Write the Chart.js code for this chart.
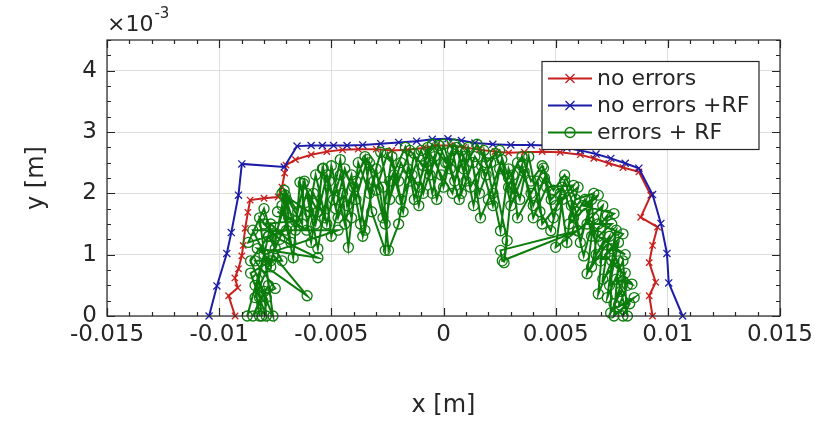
<!DOCTYPE html>
<html>
<head>
<meta charset="utf-8">
<script src="https://cdn.jsdelivr.net/npm/chart.js@4.4.0/dist/chart.umd.min.js"></script>
<style>
  html, body { margin: 0; padding: 0; background: #fff; }
</style>
</head>
<body>
<canvas id="chart" width="815" height="422"></canvas>
<script>
// x values in mm, y values in 1e-3 m (axis shows x in m, y with a x10^-3 factor)
const seriesLabels = ['no errors', 'no errors +RF', 'errors + RF'];
const seriesColors = ['#c8201e', '#1c1ca8', '#0c7c0c'];
const xTickValues = [-15, -10, -5, 0, 5, 10, 15];
const yTickValues = [0, 1, 2, 3, 4];

const redPts = [
  [-9.29,0],[-9.58,0.33],[-9.17,0.46],[-9.3,0.62],[-9.14,0.77],[-8.99,0.98],[-8.93,1.15],
  [-8.84,1.43],[-8.72,1.69],[-8.62,1.89],[-8.0,1.92],[-7.37,1.94],[-7.2,2.1],[-7.08,2.33],
  [-7.02,2.46],[-6.6,2.55],[-5.9,2.63],[-5.2,2.68],[-4.5,2.71],[-3.8,2.72],[-3.0,2.72],
  [-2.3,2.7],[-1.6,2.71],[-0.9,2.74],[-0.3,2.78],[0.3,2.78],[0.9,2.75],[1.6,2.71],[2.3,2.68],
  [2.9,2.66],[3.6,2.67],[4.4,2.68],[5.2,2.67],[6.1,2.63],[6.7,2.57],[7.37,2.49],[8.0,2.42],
  [8.71,2.35],[9.24,1.97],[8.79,1.61],[9.54,1.45],[9.32,1.15],[9.17,0.87],[9.46,0.55],
  [9.17,0.33],[9.32,0]
];

const bluePts = [
  [-10.45,0],[-10.1,0.49],[-9.66,1.02],[-9.46,1.36],[-9.14,1.97],[-8.99,2.48],[-7.1,2.43],
  [-6.53,2.77],[-5.9,2.78],[-5.4,2.78],[-4.9,2.78],[-4.3,2.78],[-3.6,2.79],[-2.8,2.81],
  [-2.0,2.83],[-1.2,2.85],[-0.5,2.88],[0.2,2.89],[0.8,2.86],[1.4,2.82],[2.2,2.8],[3.0,2.79],
  [3.9,2.79],[4.7,2.78],[5.5,2.74],[6.1,2.7],[6.8,2.64],[7.46,2.57],[8.1,2.49],[8.71,2.41],
  [9.32,1.98],[9.69,1.51],[9.96,1.02],[10.04,0.54],[10.66,0]
];

const greenPts = [
  [-8.2,0.0],[-8.4,0.5],[-7.9,0.3],[-8.6,0.9],[-7.8,1.3],[-8.7,1.2],[-8.0,1.75],[-7.5,1.1],
  [-6.9,1.6],[-7.05,1.97],[-6.3,1.5],[-6.25,2.16],[-5.6,1.7],[-5.4,2.4],[-4.9,1.9],[-4.6,2.3],
  [-4.1,1.6],[-3.8,2.5],[-3.3,2.0],[-2.8,2.67],[-2.4,1.9],[-1.9,2.5],[-1.5,2.2],[-1.0,2.7],
  [-0.6,2.3],[-0.2,2.78],[0.3,2.4],[0.6,2.75],[1.0,2.2],[1.4,2.6],[1.9,2.3],[2.3,2.65],
  [2.9,2.1],[3.3,2.5],[3.9,2.0],[4.46,2.41],[4.8,1.9],[5.3,2.1],[5.8,1.6],[6.3,1.9],
  [6.6,1.3],[7.3,1.64],[7.0,0.9],[7.8,1.2],[7.4,0.5],[8.1,0.7],[7.6,0.2],[8.0,0.0],
  [8.3,0.2],[7.7,0.6],[8.4,0.52],[7.2,1.0],[8.0,1.34],[6.9,1.5],[7.6,1.67],[6.2,1.8],
  [6.9,1.97],[5.6,1.5],[6.0,2.1],[5.0,1.8],[5.8,2.13],[4.6,2.1],[4.0,1.6],[3.6,2.35],
  [3.0,1.8],[2.6,2.55],[2.0,1.9],[1.65,1.6],[1.3,2.5],[0.8,2.0],[0.4,2.7],[0.0,2.1],
  [-0.4,2.6],[-0.9,2.0],[-1.3,2.65],[-1.8,1.7],[-2.2,2.3],[-2.6,1.5],[-3.0,2.4],[-3.5,1.4],
  [-3.9,2.2],[-4.24,1.12],[-4.5,2.0],[-5.0,1.3],[-5.36,2.41],[-5.9,1.2],[-6.4,2.18],[-6.7,0.95],
  [-7.2,1.8],[-7.7,0.8],[-8.5,1.4],[-4.7,1.4],[-8.0,1.0],[-8.75,0.0],[-8.3,0.6],[-7.6,0.0],
  [-7.9,0.8],[-6.08,0.33],[-7.6,1.0],[-8.4,0.3],[-7.7,1.5],[-6.8,1.2],[-7.2,2.0],[-6.0,1.7],
  [-5.7,2.3],[-5.2,1.5],[-4.6,2.55],[-4.3,1.8],[-3.5,2.6],[-3.2,1.7],[-2.6,1.07],[-2.4,2.2],
  [-1.7,2.75],[-1.3,1.9],[-0.8,2.5],[-0.5,2.0],[0.0,2.8],[0.5,2.2],[0.9,2.6],[1.34,1.8],
  [1.8,2.7],[2.2,2.0],[2.54,1.39],[2.9,2.4],[3.4,1.9],[3.8,2.6],[4.3,1.7],[4.78,1.39],
  [5.2,2.0],[5.5,1.2],[5.7,1.8],[6.25,0.98],[6.7,1.6],[6.4,0.69],[7.1,1.2],[6.9,0.36],
  [7.5,0.9],[7.45,0.05],[7.9,0.4],[8.2,0.0],
  [8.0,0.9],[7.3,0.3],[7.7,1.4],[6.6,0.8],[7.1,1.8],[6.0,1.39],[2.62,0.9],[2.54,1.07],
  [5.97,1.39],[5.0,1.12],[5.3,1.9],[4.4,1.5],[4.2,2.2],[3.3,1.6],[3.1,2.3],[2.7,0.87],
  [2.84,1.23],[2.1,2.5],[1.6,2.0],[1.1,2.75],[0.7,1.9],[0.2,2.5],[-0.3,1.9],[-0.7,2.75],
  [-1.1,2.1],[-1.6,2.4],[-2.0,1.5],[-2.45,1.07],[-2.7,2.1],[-3.3,2.5],[-3.7,1.5],[-4.1,2.3],
  [-4.7,1.6],[-5.1,2.2],[-5.6,1.1],[-6.1,2.0],[-6.6,1.4],[-7.0,1.9],[-7.5,1.3],[-8.2,1.6],
  [-7.8,0.5],[-8.5,0.0],[-8.0,0.4],[-7.9,0.0],
  [-8.1,0.2],[-8.6,0.7],[-7.7,0.9],[-8.3,1.1],[-5.6,0.95],[-7.3,1.25],[-8.0,1.5],[-6.6,1.55],
  [-7.4,1.7],[-6.1,1.4],[-5.8,2.0],[-5.3,1.6],[-5.0,2.45],[-4.4,1.5],[-4.0,2.1],[-3.6,1.3],
  [-3.1,2.2],[-2.7,1.6],[-2.3,2.6],[-1.9,1.9],[-1.4,2.3],[-1.1,1.8],[-0.6,2.65],[-0.1,2.3],
  [0.4,2.0],[0.8,2.7],[1.2,2.1],[1.7,2.45],[2.2,1.8],[2.5,2.4],[3.1,2.0],[3.5,2.45],
  [4.0,1.8],[4.5,2.25],[4.9,1.6],[5.4,2.2],[5.9,1.7],[6.1,1.2],[6.6,1.9],[6.8,1.0],
  [7.4,1.3],[7.1,0.6],[7.8,0.9],[7.6,0.0],[8.5,0.3],[7.8,0.15],
  [8.2,0.5],[7.5,1.1],[8.1,1.0],[6.9,1.3],[7.5,1.5],[6.4,1.5],[6.7,2.0],[5.9,1.9],
  [5.4,2.3],[4.9,2.05],[4.4,2.45],[3.9,2.2],[3.5,2.6],[2.9,2.25],[2.5,2.7],[1.9,2.5],
  [1.5,2.8],[0.9,2.4],[0.5,2.8],[0.1,2.5],[-0.5,2.8],[-0.9,2.45],[-1.5,2.7],[-2.0,2.2],
  [-2.5,2.65],[-3.0,2.05],[-3.4,2.55],[-3.9,1.9],[-4.4,2.4],[-4.8,1.75],[-5.2,2.3],[-5.7,1.5],
  [-6.2,2.2],[-6.5,1.7],[-7.1,2.05],[-7.0,1.4],[-7.8,1.3],[-7.2,0.9],[-8.4,0.9],[-7.5,0.45],
  [-8.2,0.3],[-8.1,0.0]
];

const toXY = pts => pts.map(p => ({ x: p[0], y: p[1] }));
const FONT = '"DejaVu Sans", sans-serif';
const TEXT = '#262626';

// axes box, inner ticks, titles and the legend drawn over the data
const axesBox = {
  id: 'axesBox',
  afterDatasetsDraw(chart) {
    const { ctx, chartArea: a, scales: { x, y } } = chart;
    ctx.save();
    ctx.strokeStyle = TEXT;
    ctx.lineWidth = 1.2;
    ctx.beginPath();
    for (let v = -15; v <= 15; v++) {
      const px = Math.round(x.getPixelForValue(v)) + 0.5;
      const len = v % 5 === 0 ? 8 : 4;
      ctx.moveTo(px, a.bottom); ctx.lineTo(px, a.bottom - len);
      ctx.moveTo(px, a.top); ctx.lineTo(px, a.top + len);
    }
    for (let v = 0; v <= 4.5; v += 0.25) {
      const py = Math.round(y.getPixelForValue(v)) + 0.5;
      const len = v % 1 === 0 ? 8 : 4;
      ctx.moveTo(a.left, py); ctx.lineTo(a.left + len, py);
      ctx.moveTo(a.right, py); ctx.lineTo(a.right - len, py);
    }
    ctx.stroke();
    ctx.strokeRect(a.left, a.top, a.right - a.left, a.bottom - a.top);

    // titles
    ctx.fillStyle = TEXT;
    ctx.font = '24px ' + FONT;
    ctx.textAlign = 'center';
    ctx.textBaseline = 'middle';
    ctx.fillText('x [m]', (a.left + a.right) / 2, 406);
    ctx.save();
    ctx.translate(37, (a.top + a.bottom) / 2);
    ctx.rotate(-Math.PI / 2);
    ctx.fillText('y [m]', 0, 0);
    ctx.restore();
    ctx.textAlign = 'left';
    ctx.font = '22px ' + FONT;
    ctx.fillText('\u00d710', a.left, 25);
    const w = ctx.measureText('\u00d710').width;
    ctx.font = '15px ' + FONT;
    ctx.fillText('-3', a.left + 1 + w, 14);

    // legend
    const lx = a.right - 238, ly = a.top + 21.5, lw = 217, lh = 88;
    ctx.fillStyle = '#fff';
    ctx.fillRect(lx, ly, lw, lh);
    ctx.strokeStyle = TEXT;
    ctx.lineWidth = 1.2;
    ctx.strokeRect(lx, ly, lw, lh);
    ctx.font = '22px ' + FONT;
    chart.data.datasets.forEach((ds, i) => {
      const ry = ly + 17 + i * 27;
      ctx.strokeStyle = ds.borderColor;
      ctx.lineWidth = 1.8;
      ctx.beginPath();
      ctx.moveTo(lx + 6, ry); ctx.lineTo(lx + 50, ry);
      ctx.stroke();
      const cx = lx + 28;
      ctx.lineWidth = 1.3;
      ctx.beginPath();
      if (ds.pointStyle === 'circle') {
        ctx.arc(cx, ry, 5, 0, Math.PI * 2);
      } else {
        ctx.moveTo(cx - 4.5, ry - 4.5); ctx.lineTo(cx + 4.5, ry + 4.5);
        ctx.moveTo(cx - 4.5, ry + 4.5); ctx.lineTo(cx + 4.5, ry - 4.5);
      }
      ctx.stroke();
      ctx.fillStyle = TEXT;
      ctx.fillText(ds.label, lx + 55, ry + 1);
    });
    ctx.restore();
  }
};

const mkSet = (i, pts, style, r, order) => ({
  label: seriesLabels[i],
  data: toXY(pts),
  showLine: true,
  borderColor: seriesColors[i],
  backgroundColor: 'rgba(0,0,0,0)',
  pointBorderColor: seriesColors[i],
  pointBackgroundColor: 'rgba(0,0,0,0)',
  borderWidth: 2,
  pointBorderWidth: 1.3,
  pointStyle: style,
  pointRadius: r,
  tension: 0,
  clip: false,
  order: order
});

new Chart(document.getElementById('chart'), {
  type: 'scatter',
  data: {
    datasets: [
      mkSet(0, redPts, 'crossRot', 4.5, 3),
      mkSet(1, bluePts, 'crossRot', 5, 2),
      mkSet(2, greenPts, 'circle', 5, 1)
    ]
  },
  options: {
    responsive: false,
    animation: false,
    devicePixelRatio: 1,
    layout: { padding: { left: 0, right: 35, top: 40, bottom: 0 } },
    plugins: { legend: { display: false }, tooltip: { enabled: false } },
    scales: {
      x: {
        type: 'linear',
        min: -15, max: 15,
        afterFit: s => { s.height = 106; s.paddingLeft = 0; s.paddingRight = 0; },
        afterBuildTicks: s => { s.ticks = xTickValues.map(v => ({ value: v })); },
        ticks: {
          padding: 5,
          color: TEXT,
          font: { family: FONT, size: 23 },
          callback: v => String(v / 1000)
        },
        grid: { color: '#dedede', lineWidth: 1, drawTicks: false },
        border: { display: false }
      },
      y: {
        type: 'linear',
        min: 0, max: 4.5,
        afterFit: s => { s.width = 107; s.paddingTop = 0; s.paddingBottom = 0; },
        afterBuildTicks: s => { s.ticks = yTickValues.map(v => ({ value: v })); },
        ticks: {
          padding: 10,
          color: TEXT,
          font: { family: FONT, size: 23 },
          callback: v => String(v)
        },
        grid: { color: '#dedede', lineWidth: 1, drawTicks: false },
        border: { display: false }
      }
    }
  },
  plugins: [axesBox]
});
</script>
</body>
</html>
